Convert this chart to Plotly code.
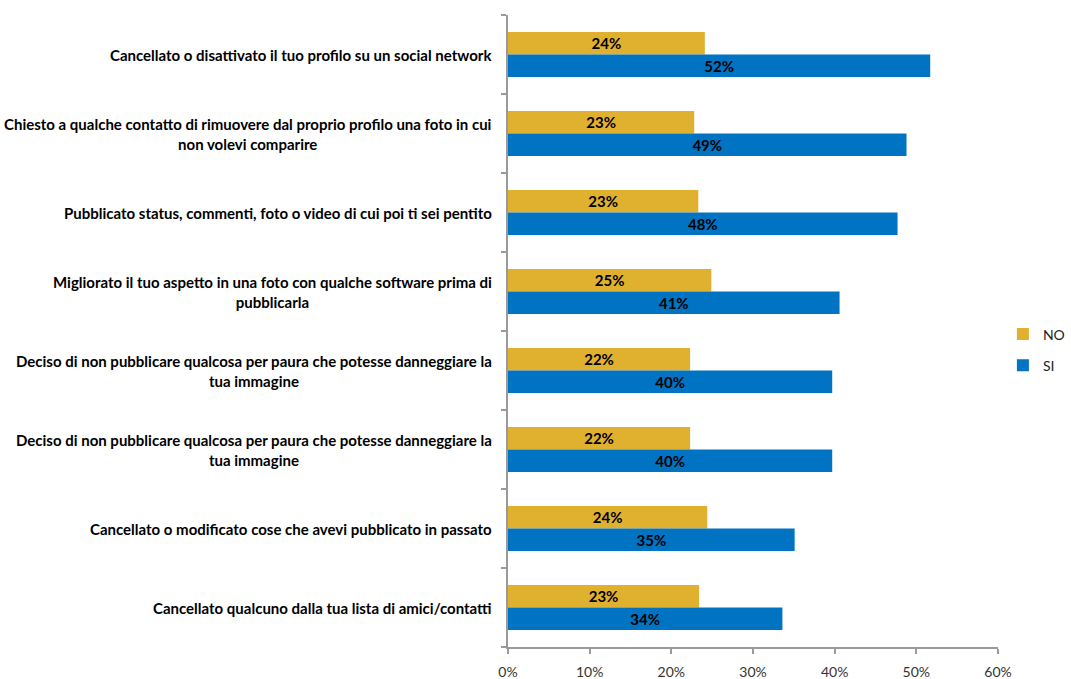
import plotly.graph_objects as go

# Survey items (top to bottom)
categories = [
    "Cancellato o disattivato il tuo profilo su un social network",
    "Chiesto a qualche contatto di rimuovere dal proprio profilo una foto in cui<br>non volevi comparire",
    "Pubblicato status, commenti, foto o video di cui poi ti sei pentito",
    "Migliorato il tuo aspetto in una foto con qualche software prima di<br>pubblicarla",
    "Deciso di non pubblicare qualcosa per paura che potesse danneggiare la<br>tua immagine",
    "Deciso di non pubblicare qualcosa per paura che potesse danneggiare la<br>tua immagine",
    "Cancellato o modificato cose che avevi pubblicato in passato",
    "Cancellato qualcuno dalla tua lista di amici/contatti",
]
no_values = [24.1, 22.8, 23.3, 24.9, 22.3, 22.3, 24.4, 23.4]
si_values = [51.7, 48.8, 47.7, 40.6, 39.7, 39.7, 35.1, 33.6]
x_ticks = [0, 10, 20, 30, 40, 50, 60]
x_tick_labels = ["0%", "10%", "20%", "30%", "40%", "50%", "60%"]

GOLD = "#E0B12F"
BLUE = "#0073C3"
AXIS = "#9a9a9a"
FONT = "Lato, 'Open Sans', sans-serif"

pos = list(range(len(categories)))

fig = go.Figure()
for name, vals, color in [("NO", no_values, GOLD), ("SI", si_values, BLUE)]:
    fig.add_trace(go.Bar(
        name=name, legendgroup=name, y=pos, x=vals, orientation="h",
        marker=dict(color=color, line=dict(width=0)),
        texttemplate="<b>%{x:.0f}%</b>", textposition="inside",
        insidetextanchor="middle", textangle=0, constraintext="none",
        textfont=dict(family=FONT, size=15, color="#000000"),
        hoverinfo="skip",
    ))

# Category labels, right-aligned block with centred lines
for i, label in enumerate(categories):
    fig.add_annotation(
        x=0, y=i, xref="x", yref="y", xanchor="right", yanchor="middle",
        xshift=-14, text=f"<b>{label}</b>", showarrow=False, align="center",
        font=dict(family=FONT, size=15, color="#000000"),
    )

fig.update_layout(
    width=1071, height=679,
    margin=dict(l=508, r=73, t=15, b=32, autoexpand=False),
    paper_bgcolor="white", plot_bgcolor="white",
    barmode="group", bargap=0.43, bargroupgap=0,
    font=dict(family=FONT, size=14, color="#333333"),
    showlegend=True,
    legend=dict(x=1.01, y=0.47, xanchor="left", yanchor="middle",
                font=dict(family=FONT, size=14, color="#222222"),
                traceorder="grouped", itemwidth=30, tracegroupgap=10),
    xaxis=dict(range=[0, 60], tickvals=x_ticks, ticktext=x_tick_labels,
               showgrid=False, zeroline=False,
               showline=True, linecolor=AXIS, linewidth=1.5,
               ticks="outside", ticklen=5, tickcolor=AXIS, tickwidth=1.5,
               ticklabelstandoff=6,
               tickfont=dict(family=FONT, size=14, color="#333333")),
    yaxis=dict(range=[len(categories) - 0.5, -0.5],
               tickvals=[i - 0.5 for i in range(len(categories) + 1)],
               showticklabels=False, showgrid=False, zeroline=False,
               showline=True, linecolor=AXIS, linewidth=1.5,
               ticks="outside", ticklen=5, tickcolor=AXIS, tickwidth=1.5),
)

fig.write_html("out.html")
